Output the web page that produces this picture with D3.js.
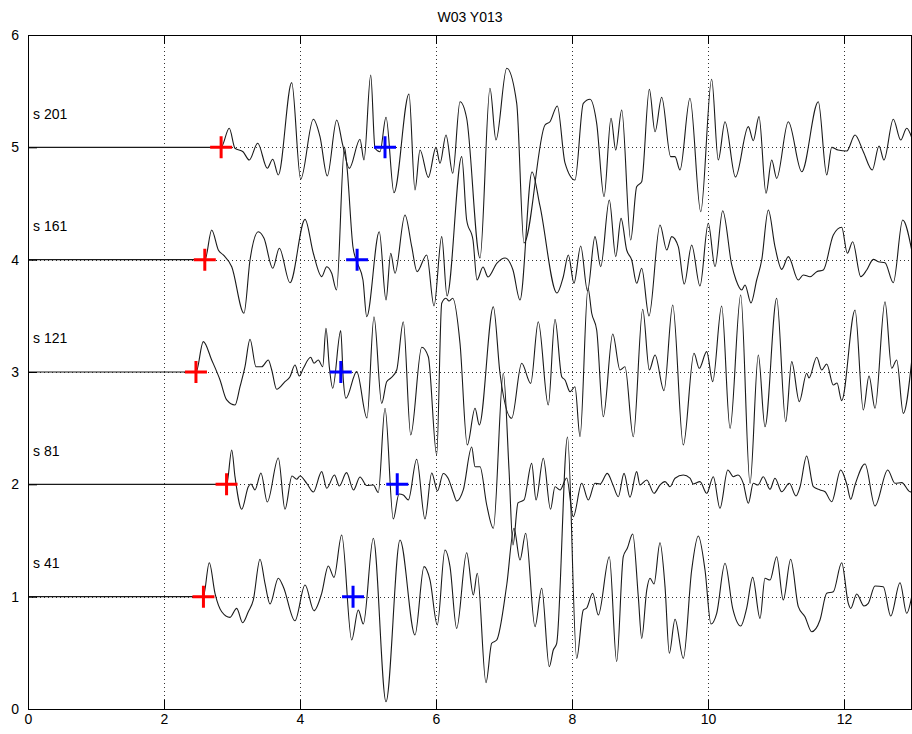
<!DOCTYPE html>
<html><head><meta charset="utf-8">
<script src="https://cdn.jsdelivr.net/npm/d3@7"></script>
<style>body{margin:0;background:#fff}svg{display:block}text{font-family:"Liberation Sans",Arial,Helvetica,sans-serif}</style>
</head><body><svg id="chart" width="912" height="734"></svg>
<script>
const chartTitle = "W03 Y013";
const traceLabels = ["s 201", "s 161", "s 121", "s 81", "s 41"];
const traceOffsets = [5, 4, 3, 2, 1];
const redPicks = [2.84, 2.60, 2.47, 2.92, 2.58];
const bluePicks = [5.25, 4.84, 4.60, 5.43, 4.78];
const xTicks = [0, 2, 4, 6, 8, 10, 12];
const yTicks = [0, 1, 2, 3, 4, 5, 6];

// [time, value] (value on the y axis)
const s201 = [[2.838,5.000],[2.960,5.170],[3.044,4.992],[3.162,4.961],[3.254,4.887],[3.378,5.036],[3.519,4.814],[3.599,4.894],[3.681,4.754],[3.878,5.576],[4.010,4.716],[4.196,5.250],[4.294,5.095],[4.401,4.745],[4.540,5.243],[4.628,5.021],[4.725,4.813],[4.882,5.072],[4.941,4.887],[5.040,5.644],[5.103,4.992],[5.176,4.961],[5.265,5.268],[5.382,4.596],[5.603,5.475],[5.691,4.620],[5.765,4.976],[5.887,4.733],[6.000,5.000],[6.059,4.858],[6.147,5.110],[6.246,4.769],[6.353,5.406],[6.451,5.259],[6.647,4.015],[6.794,5.526],[6.882,5.065],[7.040,5.704],[7.187,5.392],[7.294,4.148],[7.603,5.199],[7.676,5.228],[7.784,5.368],[7.897,4.861],[8.044,4.709],[8.166,5.392],[8.265,5.428],[8.363,5.214],[8.471,4.561],[8.574,5.259],[8.643,4.976],[8.731,5.332],[8.863,4.175],[8.951,4.650],[9.025,4.694],[9.137,5.517],[9.221,5.139],[9.319,5.446],[9.451,4.917],[9.515,4.917],[9.588,4.798],[9.735,5.437],[9.893,4.427],[10.054,5.606],[10.151,4.887],[10.250,5.228],[10.404,4.736],[10.593,5.184],[10.666,5.059],[10.750,5.273],[10.853,4.591],[10.937,4.887],[11.010,4.724],[11.181,5.228],[11.378,4.783],[11.622,5.406],[11.746,4.754],[11.819,5.000],[11.912,4.976],[12.040,4.967],[12.162,5.110],[12.284,4.961],[12.416,4.798],[12.515,5.012],[12.588,4.887],[12.725,5.250],[12.834,5.065],[12.922,5.170],[13.000,5.081]];

const s161 = [[2.603,4.000],[2.701,4.264],[2.799,4.086],[2.872,4.042],[2.996,3.937],[3.176,3.523],[3.265,3.997],[3.387,4.249],[3.471,4.190],[3.599,3.923],[3.696,4.101],[3.853,3.795],[4.074,4.359],[4.196,4.057],[4.319,3.849],[4.393,3.937],[4.466,3.879],[4.537,3.730],[4.654,5.003],[4.691,4.825],[4.779,4.113],[4.838,3.979],[4.926,3.819],[4.981,3.492],[5.166,4.249],[5.265,3.641],[5.334,4.057],[5.397,3.879],[5.544,4.398],[5.643,4.116],[5.721,3.893],[5.863,4.042],[5.971,3.588],[6.084,4.205],[6.162,3.677],[6.378,4.917],[6.451,4.353],[6.544,4.175],[6.603,3.819],[6.691,3.935],[6.765,3.846],[6.897,3.970],[7.015,4.015],[7.132,3.908],[7.235,3.641],[7.412,4.781],[7.529,4.478],[7.779,3.703],[7.872,3.848],[7.946,4.042],[8.029,3.790],[8.128,4.122],[8.228,3.721],[8.338,4.205],[8.422,3.937],[8.549,4.531],[8.643,4.027],[8.721,4.368],[8.804,4.086],[8.878,3.997],[8.951,3.790],[9.025,3.923],[9.132,3.499],[9.294,4.309],[9.393,4.086],[9.466,4.205],[9.563,4.116],[9.651,3.783],[9.760,4.131],[9.882,3.766],[10.004,4.324],[10.103,3.937],[10.216,4.436],[10.349,3.953],[10.412,3.819],[10.496,3.730],[10.544,3.775],[10.632,3.614],[10.716,3.819],[10.790,3.997],[10.887,4.442],[10.985,4.116],[11.084,3.914],[11.181,4.027],[11.328,3.819],[11.401,3.864],[11.500,3.848],[11.599,3.893],[11.696,3.908],[11.843,4.220],[11.966,4.288],[12.049,4.057],[12.128,4.160],[12.246,3.849],[12.334,3.908],[12.431,4.003],[12.504,3.982],[12.603,3.973],[12.725,3.795],[12.863,4.353],[13.000,4.071]];

const s121 = [[2.471,3.000],[2.578,3.270],[2.701,3.107],[2.824,2.929],[2.922,2.751],[3.044,2.706],[3.118,2.869],[3.191,3.047],[3.265,3.291],[3.353,3.047],[3.437,3.047],[3.534,3.107],[3.584,3.018],[3.657,2.846],[3.779,2.914],[3.853,2.958],[3.926,3.062],[3.990,2.964],[4.049,3.033],[4.157,3.131],[4.206,3.078],[4.269,3.107],[4.334,3.047],[4.382,3.389],[4.431,3.047],[4.481,2.855],[4.599,3.368],[4.637,2.929],[4.676,2.766],[4.834,3.003],[4.985,2.591],[5.088,3.492],[5.201,2.721],[5.275,2.914],[5.338,2.947],[5.422,3.018],[5.519,3.448],[5.628,2.439],[5.790,3.220],[5.887,3.136],[6.010,2.261],[6.084,3.612],[6.147,3.656],[6.191,3.632],[6.246,3.656],[6.353,3.256],[6.460,2.350],[6.574,2.677],[6.637,2.528],[6.843,3.581],[6.941,2.989],[7.113,2.588],[7.260,3.078],[7.393,2.899],[7.504,3.448],[7.651,2.706],[7.750,3.469],[7.849,2.958],[7.897,2.929],[7.971,2.825],[8.044,2.869],[8.118,2.424],[8.235,3.748],[8.290,3.523],[8.363,3.374],[8.460,2.602],[8.599,3.338],[8.706,3.018],[8.779,3.047],[8.901,2.424],[9.040,3.558],[9.137,3.018],[9.221,3.151],[9.353,2.834],[9.481,3.597],[9.637,2.350],[9.794,3.167],[9.872,3.033],[9.981,3.181],[10.069,2.914],[10.201,3.588],[10.324,2.499],[10.481,3.686],[10.618,2.009],[10.740,3.151],[10.838,2.513],[11.010,3.656],[11.143,2.558],[11.231,3.092],[11.343,2.736],[11.451,2.989],[11.485,2.947],[11.599,3.131],[11.672,3.018],[11.746,3.071],[11.843,2.884],[11.897,2.902],[11.966,2.745],[12.162,3.552],[12.284,2.662],[12.368,2.964],[12.456,2.677],[12.603,3.626],[12.701,3.033],[12.775,3.107],[12.872,2.632],[13.000,3.125]];

const s81 = [[2.922,2.000],[2.996,2.306],[3.044,2.068],[3.143,1.778],[3.240,1.979],[3.279,2.003],[3.338,1.950],[3.426,2.101],[3.519,1.843],[3.681,2.234],[3.779,1.778],[3.882,2.074],[3.951,2.045],[4.000,2.074],[4.099,2.009],[4.196,1.932],[4.319,2.113],[4.393,1.965],[4.507,2.083],[4.578,1.985],[4.684,2.104],[4.787,1.950],[4.882,2.065],[4.981,1.990],[5.078,1.994],[5.151,1.927],[5.250,2.677],[5.372,1.691],[5.456,1.914],[5.519,1.905],[5.593,1.861],[5.716,2.223],[5.838,1.691],[5.937,2.101],[6.022,1.941],[6.107,2.097],[6.176,2.056],[6.254,1.927],[6.304,1.852],[6.401,1.950],[6.525,2.332],[6.574,2.157],[6.647,2.157],[6.746,1.816],[6.843,1.609],[6.990,2.989],[7.074,2.128],[7.132,1.460],[7.206,1.834],[7.294,1.861],[7.407,2.187],[7.471,1.861],[7.578,2.232],[7.684,1.778],[7.750,1.979],[7.824,1.950],[7.922,2.056],[8.019,1.712],[8.143,2.009],[8.240,1.861],[8.338,2.009],[8.412,2.003],[8.519,2.098],[8.603,1.994],[8.681,1.890],[8.765,2.098],[8.853,1.885],[8.951,2.113],[9.000,1.994],[9.099,2.039],[9.206,1.920],[9.294,1.994],[9.368,2.024],[9.441,1.979],[9.515,2.054],[9.637,2.083],[9.735,2.056],[9.784,2.003],[9.882,2.024],[9.981,1.920],[10.078,2.068],[10.176,1.787],[10.291,2.128],[10.372,2.068],[10.441,2.083],[10.519,2.009],[10.593,1.831],[10.666,2.009],[10.735,1.994],[10.813,2.068],[10.912,1.956],[10.985,2.054],[11.084,1.934],[11.196,2.009],[11.294,1.896],[11.353,1.976],[11.451,2.252],[11.549,1.979],[11.647,1.950],[11.721,1.934],[11.819,1.845],[11.951,2.128],[12.044,1.994],[12.099,1.867],[12.162,1.994],[12.309,2.181],[12.456,1.807],[12.643,2.128],[12.750,2.009],[12.849,2.015],[12.971,1.934],[13.000,1.932]];

const s41 = [[2.578,1.000],[2.666,1.302],[2.750,1.030],[2.849,0.866],[2.971,0.816],[3.069,0.896],[3.157,0.768],[3.240,0.866],[3.313,0.970],[3.412,1.333],[3.485,1.119],[3.559,0.935],[3.681,1.164],[3.754,1.089],[3.926,0.786],[4.074,1.104],[4.206,0.875],[4.319,1.030],[4.416,1.273],[4.500,1.172],[4.613,1.549],[4.760,0.614],[4.857,0.881],[4.931,0.757],[5.078,1.520],[5.265,0.065],[5.471,1.504],[5.691,0.659],[5.824,1.267],[5.912,1.148],[6.019,0.748],[6.132,1.415],[6.206,1.267],[6.304,0.718],[6.451,1.391],[6.549,1.015],[6.607,1.208],[6.735,0.234],[6.819,0.585],[6.893,0.614],[7.040,1.104],[7.147,1.609],[7.235,1.326],[7.319,1.564],[7.456,0.733],[7.554,1.075],[7.666,0.377],[7.725,0.525],[7.775,0.585],[7.934,2.421],[8.069,0.451],[8.166,0.881],[8.216,0.899],[8.304,1.030],[8.387,0.837],[8.549,1.356],[8.657,0.421],[8.754,1.356],[8.813,1.431],[8.893,1.558],[8.975,1.000],[9.025,0.629],[9.099,1.059],[9.147,1.164],[9.206,1.113],[9.294,1.480],[9.368,1.089],[9.431,0.496],[9.515,0.799],[9.637,0.451],[9.760,1.237],[9.857,1.540],[9.956,1.237],[10.044,0.757],[10.128,0.852],[10.250,1.297],[10.363,0.896],[10.481,0.739],[10.569,0.899],[10.657,1.172],[10.765,0.807],[10.838,1.164],[10.912,1.148],[11.010,1.356],[11.107,0.970],[11.216,1.333],[11.328,0.911],[11.426,0.822],[11.525,0.688],[11.647,0.792],[11.746,1.030],[11.843,1.044],[11.966,1.302],[12.063,0.941],[12.099,0.896],[12.187,1.024],[12.294,0.917],[12.357,0.941],[12.456,1.095],[12.578,1.089],[12.687,0.828],[12.824,1.124],[12.922,0.852],[12.996,1.000]];

const traces = [s201, s161, s121, s81, s41];

const W = 912, H = 734;
const margin = {left: 28, top: 35, right: 0, bottom: 25};
const x = d3.scaleLinear().domain([0, 13]).range([margin.left, W - margin.right]);
const y = d3.scaleLinear().domain([0, 6]).range([H - margin.bottom, margin.top]);
const FONT = "'Liberation Sans', Arial, Helvetica, sans-serif";

const svg = d3.select("#chart");
svg.append("rect").attr("width", W).attr("height", H).attr("fill", "#fff");

svg.append("defs").append("clipPath").attr("id", "plotclip")
  .append("rect").attr("x", x(0)).attr("y", y(6)).attr("width", x(13) - x(0)).attr("height", y(0) - y(6));

// grid
const grid = svg.append("g").attr("stroke", "#333").attr("stroke-width", 1).attr("stroke-dasharray", "1,3");
grid.selectAll("line.vx").data(xTicks.filter(d => d > 0)).join("line")
  .attr("x1", d => Math.round(x(d)) + 0.5).attr("x2", d => Math.round(x(d)) + 0.5)
  .attr("y1", y(6)).attr("y2", y(0));
grid.selectAll("line.hy").data(yTicks.filter(d => d > 0 && d < 6)).join("line")
  .attr("y1", d => Math.round(y(d)) + 0.5).attr("y2", d => Math.round(y(d)) + 0.5)
  .attr("x1", x(0)).attr("x2", x(13));

// traces
const line = d3.line().x(d => x(d[0])).y(d => y(d[1])).curve(d3.curveMonotoneX);
const tg = svg.append("g").attr("clip-path", "url(#plotclip)");
traces.forEach((tr, i) => {
  const pts = [[0, traceOffsets[i]]].concat(tr);
  tg.append("path").datum(pts).attr("d", line)
    .attr("fill", "none").attr("stroke", "#1a1a1a").attr("stroke-width", 1.1);
});

// pick markers
const plus = "M-11,0H11M0,-11V11";
const mg = svg.append("g").attr("fill", "none").attr("stroke-width", 3);
mg.selectAll("path.red").data(traceOffsets.map((o, i) => [redPicks[i], o])).join("path")
  .attr("d", plus).attr("stroke", "#ff0000")
  .attr("transform", d => `translate(${x(d[0])},${y(d[1])})`);
mg.selectAll("path.blue").data(traceOffsets.map((o, i) => [bluePicks[i], o])).join("path")
  .attr("d", plus).attr("stroke", "#0000ff")
  .attr("transform", d => `translate(${x(d[0])},${y(d[1])})`);

// trace labels
svg.append("g").selectAll("text").data(traceOffsets.map((o, i) => [traceLabels[i], o])).join("text")
  .attr("x", x(0) + 5).attr("y", d => y(d[1] + 0.3) + 5)
  .attr("font-size", 14).attr("font-family", FONT).attr("fill", "#000").text(d => d[0]);

// axes
const ax = svg.append("g").attr("transform", `translate(0,${y(0)})`)
  .call(d3.axisBottom(x).tickValues(xTicks).tickSizeInner(-9).tickSizeOuter(0).tickPadding(5).tickFormat(d3.format("d")));
const ay = svg.append("g").attr("transform", `translate(${x(0)},0)`)
  .call(d3.axisLeft(y).tickValues(yTicks).tickSizeInner(-9).tickSizeOuter(0).tickPadding(9).tickFormat(d3.format("d")));
const at = svg.append("g").attr("transform", `translate(0,${y(6)})`)
  .call(d3.axisTop(x).tickValues(xTicks).tickSizeInner(-9).tickSizeOuter(0).tickFormat(""));
[ax, ay, at].forEach(g => {
  g.select(".domain").remove();
  g.selectAll("text").attr("font-size", 14).attr("fill", "#000").attr("font-family", FONT);
  g.selectAll("line").attr("stroke", "#000");
});

svg.append("rect").attr("x", x(0) + 0.5).attr("y", y(6) + 0.5)
  .attr("width", x(13) - x(0) - 1).attr("height", y(0) - y(6))
  .attr("fill", "none").attr("stroke", "#000").attr("stroke-width", 1);

svg.append("text").attr("x", (x(0) + x(13)) / 2).attr("y", 22)
  .attr("text-anchor", "middle").attr("font-size", 14).attr("font-family", FONT)
  .attr("fill", "#000").text(chartTitle);
</script></body></html>
